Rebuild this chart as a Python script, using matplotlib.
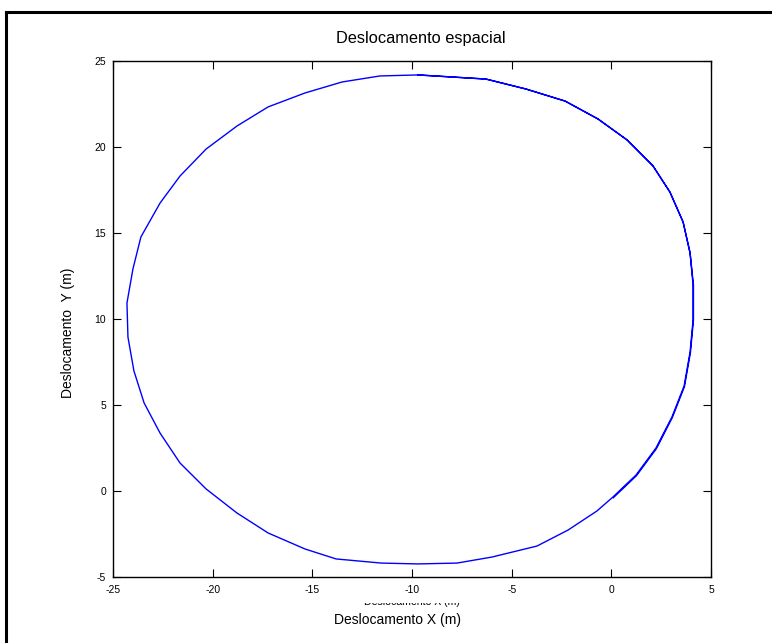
import matplotlib
matplotlib.use("Agg")
import matplotlib.pyplot as plt
from matplotlib.lines import Line2D
from matplotlib.transforms import Bbox

plt.rcParams['font.family'] = ['Liberation Sans', 'DejaVu Sans']

# Trajectory samples (m)
pos_x = [-9.70, -6.29, -4.28, -2.32, -0.67, 0.79, 2.09, 2.94, 3.60, 3.95,
         4.10, 4.10, 3.95, 3.65, 3.04, 2.24, 1.24, 0.08, -0.72, -2.17,
         -3.73, -5.99, -7.74, -9.70, -11.55, -13.81, -15.37, -17.22, -18.78, -20.33,
         -21.64, -22.64, -23.44, -23.95, -24.25, -24.30, -24.00, -23.60, -22.64, -21.64,
         -20.33, -18.78, -17.22, -15.37, -13.51, -11.61, -9.70, -6.29, -4.28, -2.32,
         -0.67, 0.79, 2.09, 2.94, 3.60, 3.95, 4.12, 4.12, 3.97, 3.67,
         3.06, 2.26, 1.26, 0.10]
pos_y = [24.19, 23.95, 23.37, 22.67, 21.63, 20.41, 18.90, 17.38, 15.64, 13.84,
         11.98, 9.94, 8.08, 6.10, 4.30, 2.50, 0.93, -0.35, -1.16, -2.27,
         -3.20, -3.84, -4.19, -4.24, -4.19, -3.95, -3.37, -2.44, -1.28, 0.12,
         1.63, 3.37, 5.12, 6.98, 8.95, 10.93, 12.91, 14.77, 16.74, 18.31,
         19.88, 21.22, 22.33, 23.14, 23.78, 24.13, 24.19, 23.95, 23.37, 22.67,
         21.63, 20.41, 18.90, 17.38, 15.64, 13.84, 11.98, 9.94, 8.06, 6.08,
         4.27, 2.46, 0.89, -0.39]

x_ticks = [-25, -20, -15, -10, -5, 0, 5]
y_ticks = [-5, 0, 5, 10, 15, 20, 25]

W, H = 772, 643
fig = plt.figure(figsize=(W / 100, H / 100), dpi=100)
fig.patch.set_facecolor('white')


def fx(px):
    return px / W


def fy(py):
    return 1 - py / H


ax = fig.add_axes([fx(113), fy(577), (711 - 113) / W, (577 - 61) / H])
ax.plot(pos_x, pos_y, color='#0000ff', linewidth=1.0)

ax.set_xlim(-25, 5)
ax.set_ylim(-5, 25)
ax.set_xticks(x_ticks)
ax.set_yticks(y_ticks)
ax.set_xticklabels([str(v) for v in x_ticks])
ax.set_yticklabels([str(v) for v in y_ticks])
ax.tick_params(direction='in', length=6, width=0.8, labelsize=7.5,
               top=True, right=True, colors='black')
ax.tick_params(axis='x', pad=6)
ax.tick_params(axis='y', pad=5)
for s in ax.spines.values():
    s.set_linewidth(1.0)
    s.set_color('black')

# Title and axis captions
fig.text(fx(421), fy(38), 'Deslocamento espacial', ha='center', va='center',
         fontsize=11.8)
fig.text(fx(397), fy(620), 'Deslocamento X (m)', ha='center', va='center',
         fontsize=10)
fig.text(fx(68), fy(333), 'Deslocamento  Y (m)', ha='center', va='center',
         rotation=90, fontsize=10)

# Second x caption, hidden under the tick labels except for its lowest strip
ghost = fig.text(fx(412), fy(605), 'Deslocamento X (m)', ha='center',
                 va='baseline', fontsize=7.6, color='black')
ghost.set_clip_box(Bbox([[0, 0], [W, H - 603]]))
ghost.set_clip_on(True)

# Outer frame (left and top edges)
fig.add_artist(Line2D([fx(6), fx(6)], [0, fy(12)], transform=fig.transFigure,
                      color='black', linewidth=2.2))
fig.add_artist(Line2D([fx(6), 1], [fy(12), fy(12)], transform=fig.transFigure,
                      color='black', linewidth=2.2))

fig.savefig('out.png', dpi=100)
